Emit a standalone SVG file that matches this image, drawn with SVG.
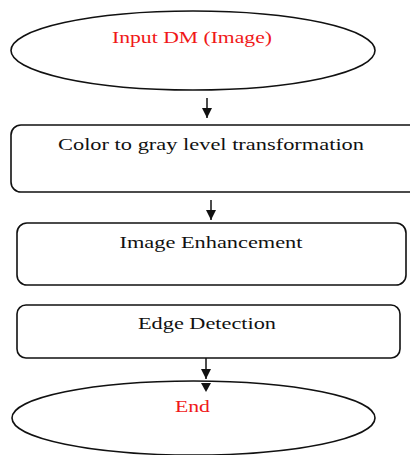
<svg xmlns="http://www.w3.org/2000/svg" width="410" height="455" viewBox="0 0 410 455">
<style>
.shape{fill:#fff;stroke:#111;stroke-width:1.6}
.t{font-family:"Liberation Serif","Times New Roman",serif;font-size:17.5px;fill:#111;text-anchor:middle}
.red{fill:#f01818}
.conn{stroke:#111;stroke-width:1.5;fill:none}
</style>
<defs>
<marker id="ah" viewBox="0 0 10 10" refX="10" refY="5" markerWidth="10" markerHeight="10" markerUnits="userSpaceOnUse" orient="auto">
<path d="M0,0 L10,5 L0,10 Z" fill="#111"/>
</marker>
</defs>
<rect width="410" height="455" fill="#fff"/>
<g id="input">
<ellipse class="shape" cx="193" cy="50.5" rx="182" ry="39.5"/>
<text class="t red" x="192" y="43" textLength="160" lengthAdjust="spacingAndGlyphs">Input DM (Image)</text>
</g>
<g id="gray">
<rect class="shape" x="11" y="125" width="410" height="67" rx="10"/>
<text class="t" x="211" y="150" textLength="306" lengthAdjust="spacingAndGlyphs">Color to gray level transformation</text>
</g>
<g id="enhance">
<rect class="shape" x="17" y="223" width="389" height="62" rx="10"/>
<text class="t" x="211" y="248" textLength="183" lengthAdjust="spacingAndGlyphs">Image Enhancement</text>
</g>
<g id="edge">
<rect class="shape" x="17" y="305" width="383" height="53" rx="9"/>
<text class="t" x="207" y="329" textLength="138" lengthAdjust="spacingAndGlyphs">Edge Detection</text>
</g>
<g id="end">
<ellipse class="shape" cx="193.5" cy="418" rx="181.5" ry="37"/>
<text class="t red" x="192.5" y="412" textLength="35" lengthAdjust="spacingAndGlyphs">End</text>
</g>
<g id="connectors">
<line class="conn" x1="207" y1="98" x2="207" y2="118" marker-end="url(#ah)"/>
<line class="conn" x1="211" y1="200" x2="211" y2="220" marker-end="url(#ah)"/>
<line class="conn" x1="206" y1="358" x2="206" y2="379" marker-end="url(#ah)"/>
<path d="M201,383 L211,383 L206,392 Z" fill="#111"/>
</g>
</svg>
